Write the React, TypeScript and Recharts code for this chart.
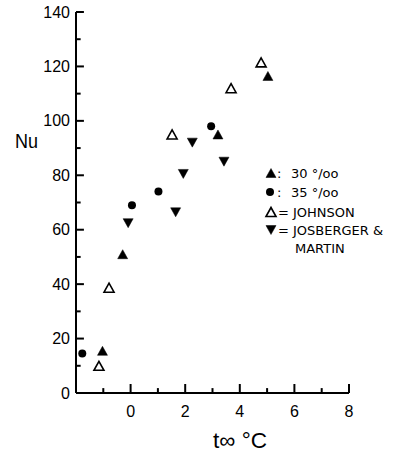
import React from "react";
import { ScatterChart, Scatter, XAxis, YAxis, ReferenceLine } from "recharts";

// Data: [t∞ °C, Nu]
const sal30X = [-1.03, -0.29, 3.2, 5.03];
const sal30Y = [15.5, 51, 95, 116.5];
const sal35X = [-1.77, 0.05, 1.02, 2.95];
const sal35Y = [14.5, 69, 74, 98];
const johnsonX = [-1.16, -0.79, 1.52, 3.68, 4.78];
const johnsonY = [10, 38.7, 95, 112, 121.5];
const josbergerX = [-0.09, 1.65, 1.93, 2.26, 3.42];
const josbergerY = [62.4, 66.4, 80.5, 92, 85];

const xTicks = [-2, -1, 0, 1, 2, 3, 4, 5, 6, 7, 8];
const xLabels = [0, 2, 4, 6, 8];
const yTicks = [0, 10, 20, 30, 40, 50, 60, 70, 80, 90, 100, 110, 120, 130, 140];
const yLabels = [0, 20, 40, 60, 80, 100, 120, 140];

const toPts = (xs: number[], ys: number[]) => xs.map((x, i) => ({ x, y: ys[i] }));

const FONT = "'Liberation Sans', Arial, sans-serif";
const AXIS_X = 76;
const AXIS_Y = 393;
const X_MIN = -2;

const TriUp = (props: any) => {
  const { cx, cy, filled } = props;
  if (cx == null || cy == null) return null;
  const w = 5, h = 4.5;
  return (
    <polygon
      points={`${cx - w},${cy + h} ${cx + w},${cy + h} ${cx},${cy - h}`}
      fill={filled ? "#000" : "#fff"}
      stroke="#000"
      strokeWidth={filled ? 0.5 : 1.6}
      strokeLinejoin="miter"
    />
  );
};

const TriDown = (props: any) => {
  const { cx, cy } = props;
  if (cx == null || cy == null) return null;
  const w = 5, h = 4.5;
  return (
    <polygon
      points={`${cx - w},${cy - h} ${cx + w},${cy - h} ${cx},${cy + h}`}
      fill="#000"
      stroke="#000"
      strokeWidth={0.5}
    />
  );
};

const Dot = (props: any) => {
  const { cx, cy } = props;
  if (cx == null || cy == null) return null;
  return <circle cx={cx} cy={cy} r={4} fill="#000" />;
};

const YTick = (props: any) => {
  const { y, payload } = props;
  const v = payload.value;
  const major = yLabels.includes(v);
  const x = AXIS_X;
  return (
    <g>
      {major && (
        <text x={x - 6} y={y} textAnchor="end" dominantBaseline="central" fontSize={16} fontFamily={FONT} fill="#000">
          {v}
        </text>
      )}
    </g>
  );
};

const XTick = (props: any) => {
  const { x, payload } = props;
  const v = payload.value;
  const major = xLabels.includes(v);
  const y = AXIS_Y;
  return (
    <g>
      {major && (
        <text x={x} y={y + 18} textAnchor="middle" dominantBaseline="central" fontSize={16} fontFamily={FONT} fill="#000">
          {v}
        </text>
      )}
    </g>
  );
};

const LFONT = "'DejaVu Sans', sans-serif";

export default function App() {
  return (
    <div style={{ position: "absolute", left: 0, top: 0, width: 401, height: 456, background: "#fff" }}>
      <ScatterChart width={401} height={456} margin={{ top: 12, right: 52, bottom: 33, left: 36 }}>
        <XAxis
          type="number"
          dataKey="x"
          domain={[-2, 8]}
          ticks={xTicks}
          interval={0}
          height={30}
          tickSize={0}
          tickMargin={0}
          tickLine={false}
          axisLine={{ stroke: "#000", strokeWidth: 2 }}
          tick={<XTick />}
          allowDataOverflow
        />
        <YAxis
          type="number"
          dataKey="y"
          domain={[0, 140]}
          ticks={yTicks}
          interval={0}
          width={40}
          tickSize={0}
          tickMargin={0}
          tickLine={false}
          axisLine={{ stroke: "#000", strokeWidth: 2 }}
          tick={<YTick />}
          allowDataOverflow
        />
        {yTicks.map((v) => (
          <ReferenceLine
            key={`yt${v}`}
            segment={[
              { x: X_MIN, y: v },
              { x: X_MIN + (yLabels.includes(v) ? 0.29 : 0.17), y: v },
            ]}
            stroke="#000"
            strokeWidth={2}
            ifOverflow="visible"
          />
        ))}
        {xTicks.filter((v) => v !== X_MIN).map((v) => (
          <ReferenceLine
            key={`xt${v}`}
            segment={[
              { x: v, y: 0 },
              { x: v, y: xLabels.includes(v) ? 3.3 : 1.8 },
            ]}
            stroke="#000"
            strokeWidth={2}
            ifOverflow="visible"
          />
        ))}
        <Scatter data={toPts(sal30X, sal30Y)} shape={(p: any) => <TriUp {...p} filled />} isAnimationActive={false} />
        <Scatter data={toPts(sal35X, sal35Y)} shape={(p: any) => <Dot {...p} />} isAnimationActive={false} />
        <Scatter data={toPts(johnsonX, johnsonY)} shape={(p: any) => <TriUp {...p} filled={false} />} isAnimationActive={false} />
        <Scatter data={toPts(josbergerX, josbergerY)} shape={(p: any) => <TriDown {...p} />} isAnimationActive={false} />
      </ScatterChart>
      <svg width={401} height={456} style={{ position: "absolute", left: 0, top: 0, pointerEvents: "none" }}>
        <text x={15} y={148} fontSize={21} fontFamily={FONT} textLength={23} lengthAdjust="spacingAndGlyphs" fill="#000">
          Nu
        </text>
        <text x={213} y={448} fontSize={22} fontFamily={FONT} textLength={54} lengthAdjust="spacingAndGlyphs" fill="#000">
          t∞ °C
        </text>
        {/* legend */}
        <TriUp cx={271} cy={173} filled />
        <text x={277} y={173} dominantBaseline="central" fontSize={13} fontFamily={LFONT} fill="#000">:</text>
        <text x={291} y={173} dominantBaseline="central" fontSize={13} fontFamily={LFONT} fill="#000">30 °/oo</text>
        <circle cx={270} cy={192} r={4} fill="#000" />
        <text x={277} y={192} dominantBaseline="central" fontSize={13} fontFamily={LFONT} fill="#000">:</text>
        <text x={291} y={192} dominantBaseline="central" fontSize={13} fontFamily={LFONT} fill="#000">35 °/oo</text>
        <TriUp cx={271} cy={212} filled={false} />
        <text x={278} y={212} dominantBaseline="central" fontSize={13} fontFamily={LFONT} fill="#000">=</text>
        <text x={293} y={212} dominantBaseline="central" fontSize={13} fontFamily={LFONT} fill="#000">JOHNSON</text>
        <TriDown cx={271} cy={230} />
        <text x={278} y={230} dominantBaseline="central" fontSize={13} fontFamily={LFONT} fill="#000">=</text>
        <text x={293} y={230} dominantBaseline="central" fontSize={13} fontFamily={LFONT} fill="#000">JOSBERGER &amp;</text>
        <text x={295} y={248} dominantBaseline="central" fontSize={13} fontFamily={LFONT} fill="#000">MARTIN</text>
      </svg>
    </div>
  );
}
